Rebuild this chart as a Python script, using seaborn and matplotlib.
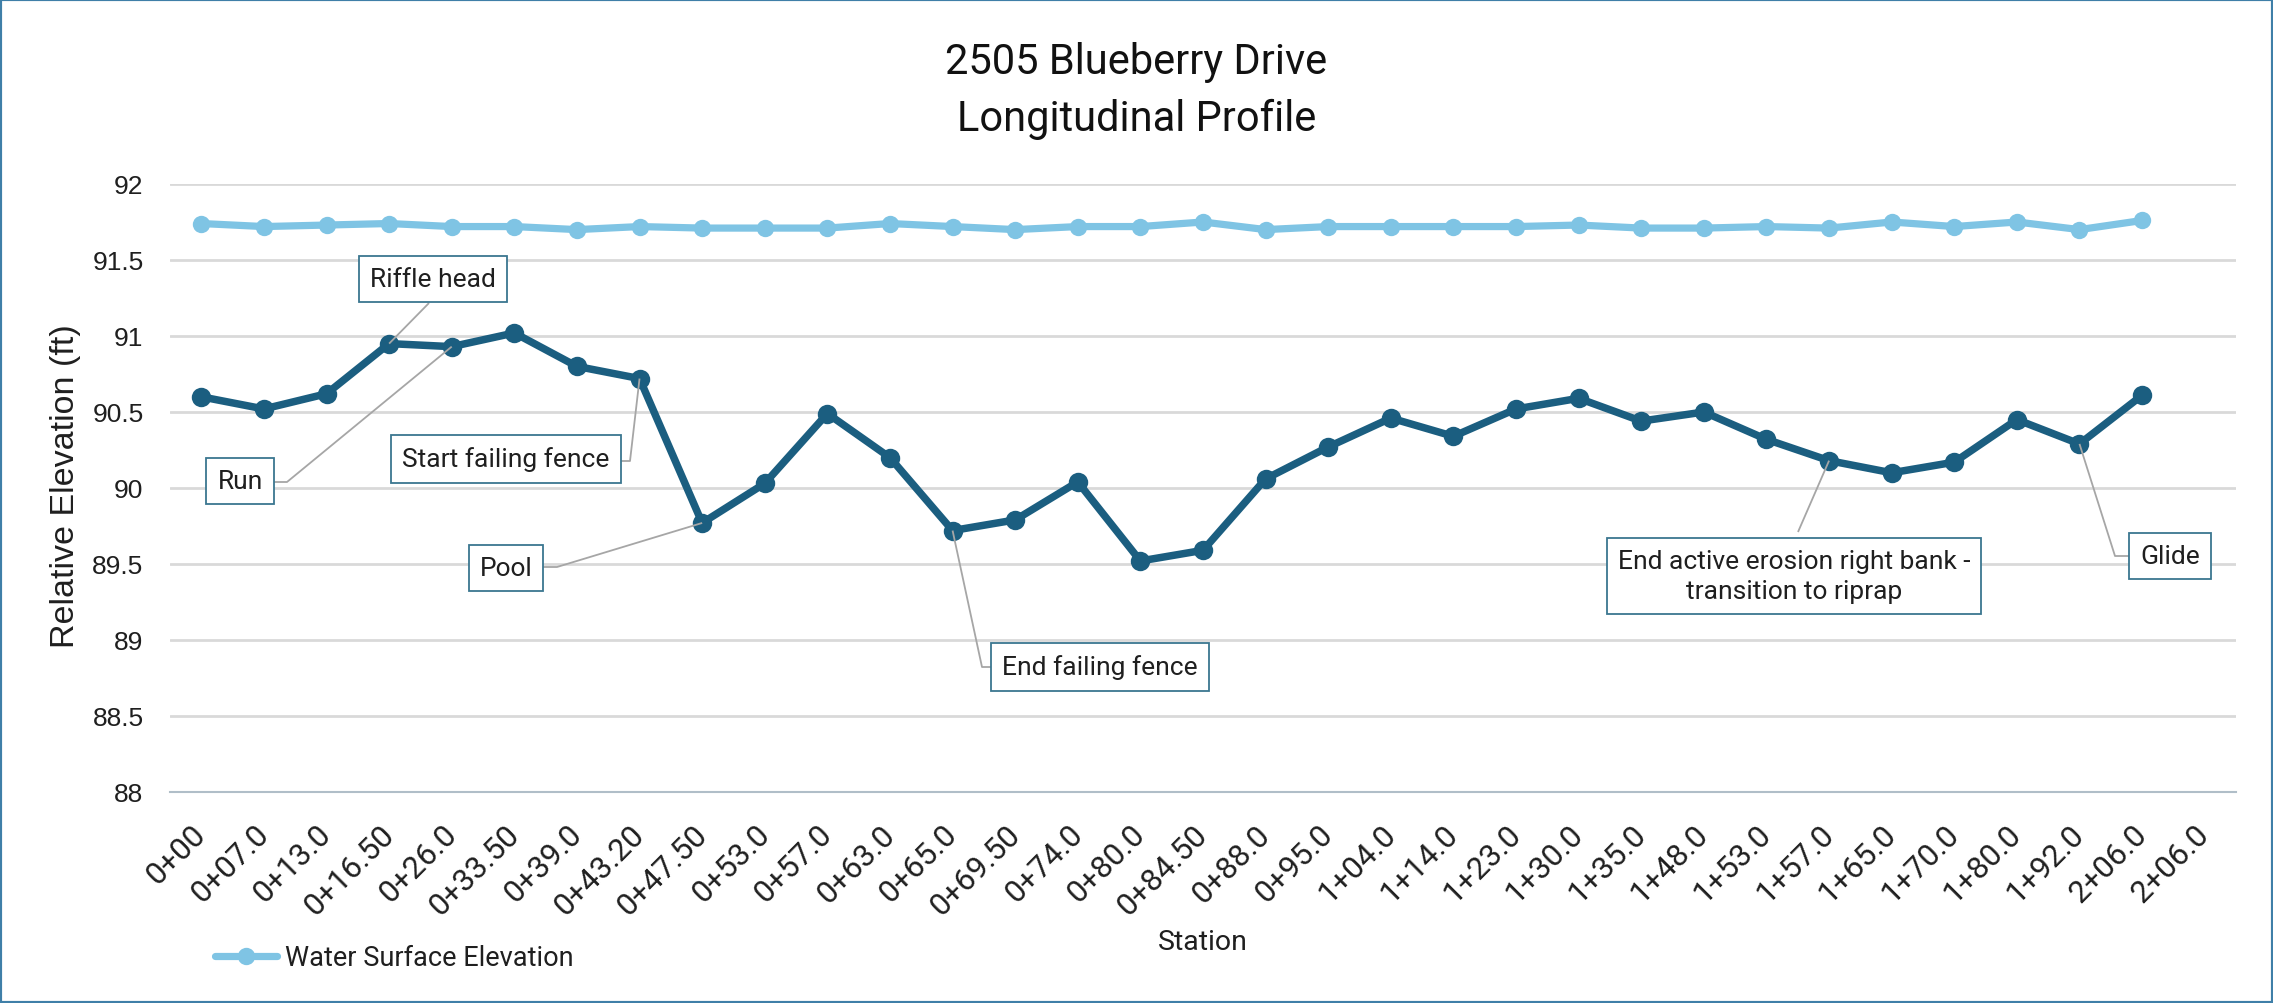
import numpy as np
import pandas as pd
import matplotlib
matplotlib.use("Agg")
import matplotlib.pyplot as plt
import matplotlib.transforms as mtransforms
from matplotlib.patches import Rectangle
import seaborn as sns

# ---- survey data -------------------------------------------------------
stations = ["0+00", "0+07.0", "0+13.0", "0+16.50", "0+26.0", "0+33.50", "0+39.0",
            "0+43.20", "0+47.50", "0+53.0", "0+57.0", "0+63.0", "0+65.0", "0+69.50",
            "0+74.0", "0+80.0", "0+84.50", "0+88.0", "0+95.0", "1+04.0", "1+14.0",
            "1+23.0", "1+30.0", "1+35.0", "1+48.0", "1+53.0", "1+57.0", "1+65.0",
            "1+70.0", "1+80.0", "1+92.0", "2+06.0", "2+06.0"]

bed_elev = [90.60, 90.52, 90.62, 90.95, 90.93, 91.02, 90.80, 90.72, 89.77, 90.03,
            90.49, 90.20, 89.72, 89.79, 90.04, 89.52, 89.59, 90.06, 90.27, 90.46,
            90.34, 90.52, 90.59, 90.44, 90.50, 90.32, 90.18, 90.10, 90.17, 90.45,
            90.29, 90.61]

water_elev = [91.74, 91.72, 91.73, 91.74, 91.72, 91.72, 91.70, 91.72, 91.71, 91.71,
              91.71, 91.74, 91.72, 91.70, 91.72, 91.72, 91.75, 91.70, 91.72, 91.72,
              91.72, 91.72, 91.73, 91.71, 91.71, 91.72, 91.71, 91.75, 91.72, 91.75,
              91.70, 91.76]

note_text = ["Riffle head", "Run", "Start failing fence", "Pool", "End failing fence",
             "End active erosion right bank -\ntransition to riprap", "Glide"]
note_index = [3, 4, 7, 8, 12, 26, 30]

# ---- layout (pixels of the 2273 x 1004 canvas) --------------------------
W, H, DPI = 2273, 1004, 100
AX_L, AX_R, AX_T, AX_B = 170, 2236, 185, 793

# label box centres and leader-line bend points
note_box = [(433, 280), (240, 482), (506, 460), (506, 569), (1100, 668), (1794, 577), (2170, 557)]
note_path = [[(429, 304)],
             [(273, 483), (287, 483)],
             [(616, 462), (630, 462)],
             [(542, 568), (557, 568)],
             [(993, 668), (982, 668)],
             [(1798, 533)],
             [(2129, 557), (2115, 557)]]

DARK = "#1b5e80"
LIGHT = "#7fc4e4"
GRID = "#d9d9d9"
AXIS = "#b0bec8"
BOXC = "#3a7690"
LEAD = "#a6a6a6"
TXT = "#1f1f1f"

sns.set_theme(style="white")
plt.rcParams["font.family"] = ["Roboto", "DejaVu Sans"]
ARIAL = ["Liberation Sans", "DejaVu Sans"]

fig = plt.figure(figsize=(W / DPI, H / DPI), dpi=DPI)
fig.patch.set_facecolor("white")
ax = fig.add_axes([AX_L / W, 1 - AX_B / H, (AX_R - AX_L) / W, (AX_B - AX_T) / H])

df = pd.DataFrame({
    "pos": np.arange(len(bed_elev)),
    "bed": bed_elev,
    "water": water_elev,
})

sns.lineplot(data=df, x="pos", y="water", ax=ax, color=LIGHT, lw=5.2, marker="o",
             markersize=12.5, markeredgewidth=0, label="Water Surface Elevation", zorder=3)
sns.lineplot(data=df, x="pos", y="bed", ax=ax, color=DARK, lw=5.4, marker="o",
             markersize=14, markeredgewidth=0, legend=False, zorder=3)

# ---- axes --------------------------------------------------------------
n = len(stations)
ax.set_xlim(-0.5, n - 0.5)
ax.set_ylim(88, 92)
yt = np.arange(88, 92.01, 0.5)
ax.set_yticks(yt)
ax.set_yticklabels([f"{v:g}" for v in yt], fontsize=19, color=TXT, family=ARIAL)
ax.set_xticks(np.arange(n))
ax.set_xticklabels(stations, rotation=45, ha="right", va="center",
                   rotation_mode="anchor", fontsize=22.5, color=TXT)
shift = mtransforms.ScaledTranslation(9 / DPI, 0, fig.dpi_scale_trans)
for lbl in ax.get_xticklabels():
    lbl.set_transform(lbl.get_transform() + shift)
ax.set_xticks(np.arange(-0.5, n), minor=True)
ax.tick_params(axis="x", which="major", length=0, pad=27)
ax.tick_params(axis="x", which="minor", length=11, direction="inout", color=AXIS, width=1.2)
ax.tick_params(axis="y", length=0, pad=19)

ax.grid(axis="y", color=GRID, lw=2)
ax.grid(axis="x", visible=False)
for s in ["top", "left", "right"]:
    ax.spines[s].set_visible(False)
ax.spines["bottom"].set_color(AXIS)
ax.spines["bottom"].set_linewidth(1.5)
ax.spines["bottom"].set_zorder(4)

ax.set_xlabel("Station", fontsize=20.5, color=TXT)
ax.xaxis.label.set_va("center")
ax.xaxis.set_label_coords(0.5, (AX_B - 943) / (AX_B - AX_T))
ax.set_ylabel("Relative Elevation (ft)", fontsize=24.5, color=TXT, family=ARIAL)
ax.yaxis.label.set_va("center")
ax.yaxis.set_label_coords((66 - AX_L) / (AX_R - AX_L), (AX_B - 486) / (AX_B - AX_T))

# ---- title ---------------------------------------------------------------
fig.text(0.5, 1 - 74 / H, "2505 Blueberry Drive", ha="center", va="baseline",
         fontsize=30, color="#111111")
fig.text(0.5, 1 - 131 / H, "Longitudinal Profile", ha="center", va="baseline",
         fontsize=30, color="#111111")

# ---- legend (water surface only) ----------------------------------------
handles, labels = ax.get_legend_handles_labels()
if ax.get_legend() is not None:
    ax.get_legend().remove()
fig.legend(handles, labels, loc="center left", bbox_to_anchor=(215 / W, 1 - 959 / H),
           frameon=False, fontsize=19.5, handlelength=2.3, handletextpad=0.3,
           borderpad=0, borderaxespad=0, labelcolor=TXT)


# ---- callouts ------------------------------------------------------------
def px_to_data(x, y):
    xd = -0.5 + (x - AX_L) / (AX_R - AX_L) * n
    yd = 88 + (AX_B - y) / (AX_B - AX_T) * 4
    return xd, yd


def px_to_axes(x, y):
    return (x - AX_L) / (AX_R - AX_L), (AX_B - y) / (AX_B - AX_T)


for text, idx, box, path in zip(note_text, note_index, note_box, note_path):
    pts = [px_to_data(*p) for p in path] + [(idx, bed_elev[idx])]
    ax.plot([p[0] for p in pts], [p[1] for p in pts], color=LEAD, lw=1.3, zorder=4,
            solid_capstyle="butt")
    cx, cy = px_to_axes(*box)
    ax.text(cx, cy, text, transform=ax.transAxes, ha="center", va="center",
            fontsize=19, color=TXT, linespacing=1.35, zorder=6,
            bbox=dict(boxstyle="square,pad=0.42", fc="white", ec=BOXC, lw=1.3))

# outer frame
fig.add_artist(Rectangle((0, 0), 1, 1, transform=fig.transFigure, fill=False,
                         ec="#3f7fa8", lw=3))

fig.savefig("out.png", dpi=DPI, facecolor="white")
